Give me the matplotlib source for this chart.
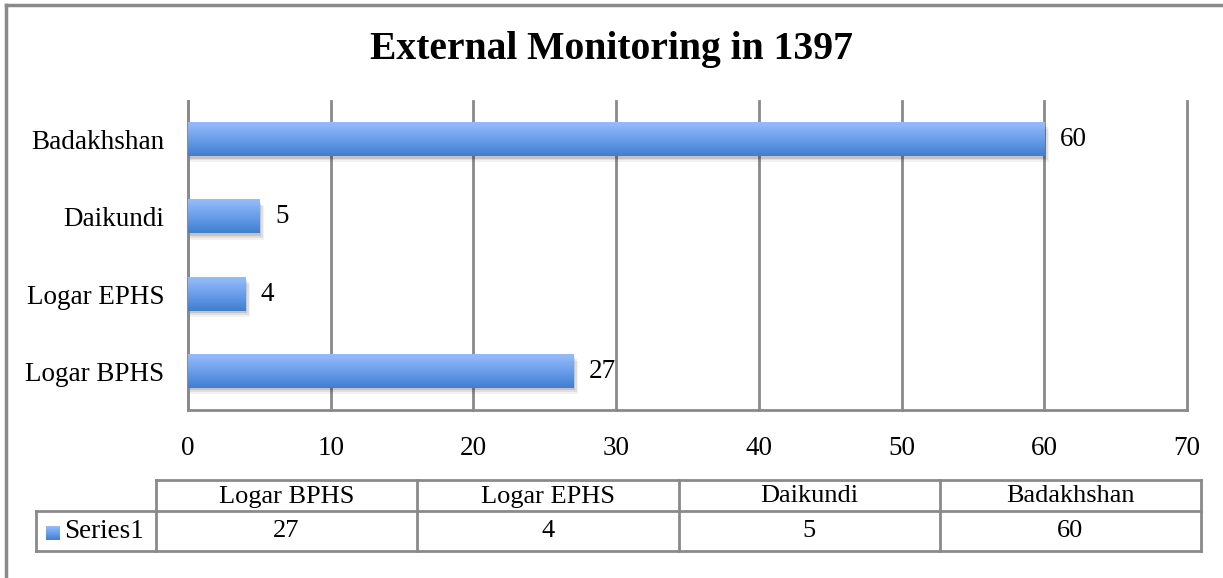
import numpy as np
import matplotlib.pyplot as plt
from matplotlib.patches import Rectangle
from matplotlib.colors import LinearSegmentedColormap

categories = ["Logar BPHS", "Logar EPHS", "Daikundi", "Badakhshan"]
values = [27, 4, 5, 60]
series_name = "Series1"
title = "External Monitoring in 1397"
xticks = [0, 10, 20, 30, 40, 50, 60, 70]

plt.rcParams['font.family'] = ['Liberation Serif', 'DejaVu Serif']

W, H = 1223, 578
fig = plt.figure(figsize=(W / 100, H / 100), dpi=100)

def fx(px):
    return px / W

def fy(py):
    return 1 - py / H

# outer frame (only top and left edges fall inside the picture)
fig.add_artist(plt.Line2D([fx(6), fx(6)], [0, fy(5)], color='#8a8a8a', lw=2.5))
fig.add_artist(plt.Line2D([fx(6), 1.01], [fy(5), fy(5)], color='#8a8a8a', lw=2.5))

fig.text(0.5, fy(50), title, ha='center', va='center', fontsize=28.5, fontweight='bold')

# main axes
ax = fig.add_axes([fx(188), fy(410), fx(1187) - fx(188), fy(101) - fy(410)])
ax.set_xlim(0, 70)
ax.set_ylim(-0.5, len(categories) - 0.5)
ax.set_xticks(xticks)
ax.set_yticks(range(len(categories)))
ax.set_yticklabels(categories)
ax.tick_params(axis='both', length=0, labelsize=19.5)
ax.tick_params(axis='x', pad=19)
ax.tick_params(axis='y', pad=17)
for s in ['top', 'right']:
    ax.spines[s].set_visible(False)
for s in ['left', 'bottom']:
    ax.spines[s].set_color('#8a8a8a')
    ax.spines[s].set_linewidth(2)
ax.grid(axis='x', color='#8a8a8a', linewidth=2)
for gl in ax.get_xgridlines():
    gl.set_clip_on(False)
ax.set_axisbelow(True)

cmap = LinearSegmentedColormap.from_list('bar', ['#3f7fd1', '#6b9eea', '#96bdf9'])
grad = np.linspace(0, 1, 64).reshape(-1, 1)
bh = 0.43
for i, v in enumerate(values):
    # soft shadow
    for k, a in enumerate([0.12, 0.08, 0.05]):
        off = 0.03 + k * 0.025
        ax.add_patch(Rectangle((0, i - bh / 2 - off), v + 0.15 + k * 0.1, bh,
                               facecolor='black', alpha=a, edgecolor='none', zorder=2))
    ax.imshow(grad, cmap=cmap, aspect='auto', origin='lower',
              extent=(0, v, i - bh / 2, i + bh / 2), zorder=3)
    ax.text(v + 1.1, i, str(v), va='center', ha='left', fontsize=19.5, zorder=4)
ax.set_xlim(0, 70)
ax.set_ylim(-0.5, len(categories) - 0.5)

# data table
tax = fig.add_axes([0, 0, 1, 1])
tax.set_xlim(0, W)
tax.set_ylim(H, 0)
tax.axis('off')
lc = '#8a8a8a'
col_x = np.linspace(156, 1201, len(categories) + 1)
top, mid, bot = 480, 511, 551
tax.plot([156, 1201], [top, top], color=lc, lw=2)
tax.plot([36, 1201], [mid, mid], color=lc, lw=2)
tax.plot([36, 1201], [bot, bot], color=lc, lw=2)
tax.plot([36, 36], [mid, bot], color=lc, lw=2)
for x in col_x:
    tax.plot([x, x], [top, bot], color=lc, lw=2)
for i, (c, v) in enumerate(zip(categories, values)):
    cx = (col_x[i] + col_x[i + 1]) / 2
    tax.text(cx, (top + mid) / 2 + 1, c, ha='center', va='center', fontsize=19)
    tax.text(cx, (mid + bot) / 2, str(v), ha='center', va='center', fontsize=19)
tax.imshow(grad, cmap=cmap, aspect='auto', origin='lower', extent=(46, 60, 540, 526))
tax.text(64, (mid + bot) / 2, series_name, ha='left', va='center', fontsize=19.5)
tax.set_xlim(0, W)
tax.set_ylim(H, 0)

fig.savefig('out.png', dpi=100)
